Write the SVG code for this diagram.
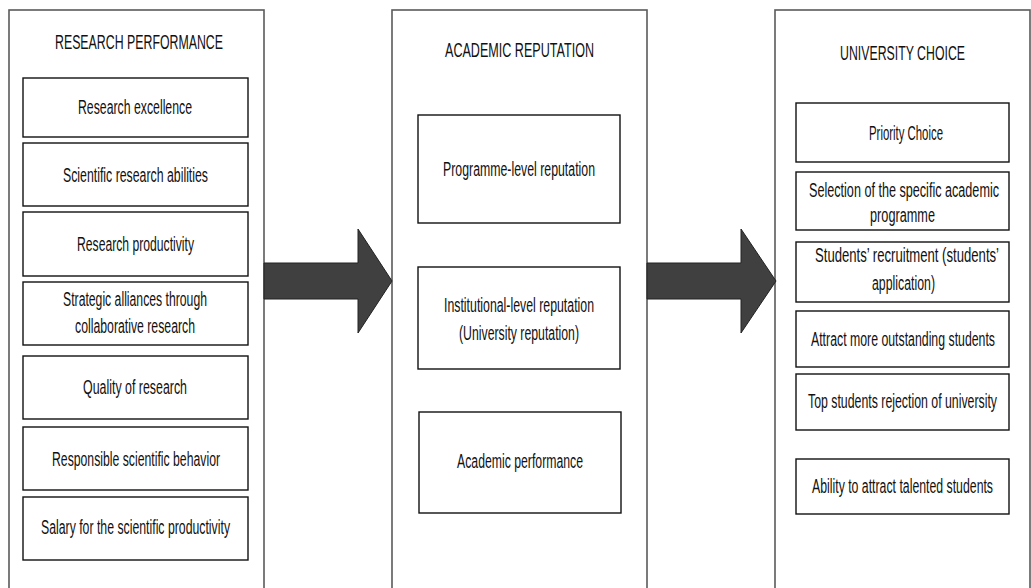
<svg xmlns="http://www.w3.org/2000/svg" width="1031" height="588" viewBox="0 0 1031 588">
<style>
.outer{fill:#fff;stroke:#5a5a5a;stroke-width:1.6}
.inner{fill:#fff;stroke:#111;stroke-width:1.4}
.t{font-family:"Liberation Sans",Arial,sans-serif;font-size:21px;fill:#111;text-anchor:middle}
.arrow{fill:#404040;stroke:#222;stroke-width:1}
</style>
<rect width="1031" height="588" fill="#fff"/>
<g id="research-performance">
<rect class="outer" x="9" y="10" width="255" height="600"/>
<text class="t" transform="translate(139,49) scale(0.65,1)" textLength="258.5" lengthAdjust="spacingAndGlyphs">RESEARCH PERFORMANCE</text>
</g>
<g id="rp-excellence"><rect class="inner" x="23" y="78" width="225" height="59"/><text class="t" transform="translate(135,114) scale(0.65,1)" textLength="175.4" lengthAdjust="spacingAndGlyphs">Research excellence</text></g>
<g id="rp-abilities"><rect class="inner" x="23" y="143" width="225" height="63"/><text class="t" transform="translate(135.5,182) scale(0.65,1)" textLength="223.1" lengthAdjust="spacingAndGlyphs">Scientific research abilities</text></g>
<g id="rp-productivity"><rect class="inner" x="23" y="212" width="225" height="64"/><text class="t" transform="translate(135.5,251) scale(0.65,1)" textLength="180" lengthAdjust="spacingAndGlyphs">Research productivity</text></g>
<g id="rp-alliances"><rect class="inner" x="23" y="282" width="225" height="63"/><text class="t" transform="translate(135,306) scale(0.65,1)" textLength="221.5" lengthAdjust="spacingAndGlyphs">Strategic alliances through</text><text class="t" transform="translate(135,333) scale(0.65,1)" textLength="184.6" lengthAdjust="spacingAndGlyphs">collaborative research</text></g>
<g id="rp-quality"><rect class="inner" x="23" y="356" width="225" height="63"/><text class="t" transform="translate(135,394) scale(0.65,1)" textLength="160" lengthAdjust="spacingAndGlyphs">Quality of research</text></g>
<g id="rp-behavior"><rect class="inner" x="23" y="427" width="225" height="63"/><text class="t" transform="translate(136,466) scale(0.65,1)" textLength="258.5" lengthAdjust="spacingAndGlyphs">Responsible scientific behavior</text></g>
<g id="rp-salary"><rect class="inner" x="23" y="497" width="225" height="63"/><text class="t" transform="translate(135.5,534) scale(0.65,1)" textLength="290.8" lengthAdjust="spacingAndGlyphs">Salary for the scientific productivity</text></g>

<g id="academic-reputation">
<rect class="outer" x="392" y="10" width="255" height="600"/>
<text class="t" transform="translate(519.5,57) scale(0.65,1)" textLength="229.2" lengthAdjust="spacingAndGlyphs">ACADEMIC REPUTATION</text>
</g>
<g id="ar-programme"><rect class="inner" x="418" y="115" width="202" height="108"/><text class="t" transform="translate(519,176) scale(0.65,1)" textLength="233.8" lengthAdjust="spacingAndGlyphs">Programme-level reputation</text></g>
<g id="ar-institutional"><rect class="inner" x="418" y="267" width="202" height="102"/><text class="t" transform="translate(519,312) scale(0.65,1)" textLength="230.8" lengthAdjust="spacingAndGlyphs">Institutional-level reputation</text><text class="t" transform="translate(519,340) scale(0.65,1)" textLength="184.6" lengthAdjust="spacingAndGlyphs">(University reputation)</text></g>
<g id="ar-performance"><rect class="inner" x="419" y="412" width="202" height="101"/><text class="t" transform="translate(520,468) scale(0.65,1)" textLength="193.8" lengthAdjust="spacingAndGlyphs">Academic performance</text></g>

<g id="university-choice">
<rect class="outer" x="775" y="10" width="255" height="600"/>
<text class="t" transform="translate(902.5,60) scale(0.65,1)" textLength="192.3" lengthAdjust="spacingAndGlyphs">UNIVERSITY CHOICE</text>
</g>
<g id="uc-priority"><rect class="inner" x="796" y="103" width="213" height="59"/><text class="t" transform="translate(906,140) scale(0.65,1)" textLength="113.8" lengthAdjust="spacingAndGlyphs">Priority Choice</text></g>
<g id="uc-selection"><rect class="inner" x="796" y="172" width="213" height="58"/><text class="t" transform="translate(904,197) scale(0.65,1)" textLength="292.3" lengthAdjust="spacingAndGlyphs">Selection of the specific academic</text><text class="t" transform="translate(902.5,222) scale(0.65,1)" textLength="100" lengthAdjust="spacingAndGlyphs">programme</text></g>
<g id="uc-recruitment"><rect class="inner" x="796" y="242" width="213" height="60"/><text class="t" transform="translate(907,262) scale(0.65,1)" textLength="283.1" lengthAdjust="spacingAndGlyphs">Students’ recruitment (students’</text><text class="t" transform="translate(903.5,290) scale(0.65,1)" textLength="96.9" lengthAdjust="spacingAndGlyphs">application)</text></g>
<g id="uc-attract"><rect class="inner" x="796" y="311" width="213" height="56"/><text class="t" transform="translate(903,346) scale(0.65,1)" textLength="283.1" lengthAdjust="spacingAndGlyphs">Attract more outstanding students</text></g>
<g id="uc-rejection"><rect class="inner" x="796" y="374" width="213" height="56"/><text class="t" transform="translate(902.5,408) scale(0.65,1)" textLength="290.8" lengthAdjust="spacingAndGlyphs">Top students rejection of university</text></g>
<g id="uc-ability"><rect class="inner" x="796" y="459" width="213" height="55"/><text class="t" transform="translate(902.5,493) scale(0.65,1)" textLength="278.5" lengthAdjust="spacingAndGlyphs">Ability to attract talented students</text></g>

<g id="connectors">
<polygon class="arrow" points="264,263 358,263 358,229 392,281 358,333 358,299 264,299"/>
<polygon class="arrow" points="647,263 741,263 741,229 776,281 741,333 741,299 647,299"/>
</g>
</svg>
